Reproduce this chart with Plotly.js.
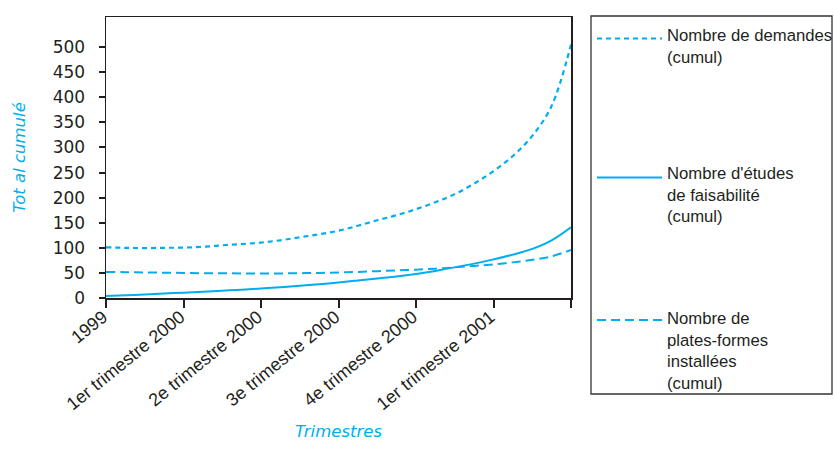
<!DOCTYPE html>
<html lang="fr">
<head>
<meta charset="utf-8">
<script src="https://cdn.plot.ly/plotly-3.0.1.min.js"></script>
<style>
  html, body { margin: 0; padding: 0; background: #ffffff; }
  #chart { width: 834px; height: 453px; }
</style>
</head>
<body>
<div id="chart"></div>
<script>
// Position along the time axis, in quarters since 1999 (sampled every quarter of a quarter)
const quarterPos = [0, 0.25, 0.5, 0.75, 1, 1.25, 1.5, 1.75, 2, 2.25, 2.5, 2.75, 3,
                    3.25, 3.5, 3.75, 4, 4.25, 4.5, 4.75, 5, 5.25, 5.5, 5.75, 6];

// Cumulative totals
const demandes = [101, 100, 99.5, 100, 100.5, 102, 105, 107.5, 110.5, 115, 121, 127, 134,
                  144, 155, 165, 177, 191, 207, 228, 253, 283, 323, 383, 505];
const etudes   = [4, 5.5, 7, 9, 10.5, 12.5, 14.5, 16.5, 19, 21.5, 24.5, 27.5, 31,
                  35, 39, 43, 48, 54, 61, 68.5, 77, 86.5, 98, 115, 141];
const plates   = [52, 51.5, 51, 50.5, 50, 49.5, 49.5, 49, 49, 49, 49.5, 50, 51,
                  52, 53.5, 55, 56.5, 58.5, 61, 64, 67, 71, 76, 83, 96];

// Axis ticks
const tickPos = [0, 1, 2, 3, 4, 5, 6];
const tickLabels = ['1999', '1er trimestre 2000', '2e trimestre 2000', '3e trimestre 2000',
                    '4e trimestre 2000', '1er trimestre 2001', ''];
const yTicks = [0, 50, 100, 150, 200, 250, 300, 350, 400, 450, 500];

// Series names as shown in the key
const seriesNames = [
  'Nombre de demandes<br>(cumul)',
  "Nombre d'études<br>de faisabilité<br>(cumul)",
  'Nombre de<br>plates-formes<br>installées<br>(cumul)'
];

const CYAN = '#00aeef';
const INK = '#231f20';
const AXIS_FONT = 'DejaVu Sans, Verdana, sans-serif';
const TEXT_FONT = 'Liberation Sans, Arial, Helvetica, sans-serif';

// Plot-area geometry (pixels) and helpers to convert to paper coordinates
const M = { l: 106, r: 263, t: 17, b: 155 };
const W = 834, H = 453;
const PW = W - M.l - M.r, PH = H - M.t - M.b;
const px = x => (x - M.l) / PW;
const py = y => (M.t + PH - y) / PH;

const dotted = '5px,4px';
const dashed = '9px,5px';

const traces = [
  { x: quarterPos, y: demandes, name: 'Nombre de demandes (cumul)', mode: 'lines',
    line: { color: CYAN, width: 2.2, dash: dotted, shape: 'spline', smoothing: 1 } },
  { x: quarterPos, y: etudes, name: "Nombre d'études de faisabilité (cumul)", mode: 'lines',
    line: { color: CYAN, width: 2, shape: 'spline', smoothing: 1 } },
  { x: quarterPos, y: plates, name: 'Nombre de plates-formes installées (cumul)', mode: 'lines',
    line: { color: CYAN, width: 2, dash: dashed, shape: 'spline', smoothing: 1 } }
];

// Key: framed box with a line sample and a text block per series
const keyRows = [
  { sampleY: 38.5, textY: 46, dash: dotted },
  { sampleY: 177.5, textY: 195, dash: 'solid' },
  { sampleY: 320, textY: 351, dash: dashed }
];

const shapes = [
  { type: 'rect', xref: 'paper', yref: 'paper', layer: 'above',
    x0: px(591), x1: px(832), y0: py(394), y1: py(16),
    line: { color: '#333333', width: 1.3 }, fillcolor: 'rgba(0,0,0,0)' }
];
const annotations = [];
keyRows.forEach((row, i) => {
  shapes.push({ type: 'line', xref: 'paper', yref: 'paper',
    x0: px(597), x1: px(662), y0: py(row.sampleY), y1: py(row.sampleY),
    line: { color: CYAN, width: 2, dash: row.dash } });
  annotations.push({ xref: 'paper', yref: 'paper', x: px(665), y: py(row.textY),
    xanchor: 'left', yanchor: 'middle', align: 'left', showarrow: false,
    text: seriesNames[i], font: { family: TEXT_FONT, size: 16.7, color: INK } });
});

const layout = {
  width: W, height: H,
  margin: M,
  paper_bgcolor: '#ffffff', plot_bgcolor: '#ffffff',
  showlegend: false,
  xaxis: {
    range: [0, 6], tickmode: 'array', tickvals: tickPos, ticktext: tickLabels,
    tickangle: -39, showgrid: false, zeroline: false,
    showline: true, linecolor: INK, linewidth: 1.5, mirror: true,
    ticks: 'outside', ticklen: 8, tickwidth: 2, tickcolor: INK,
    ticklabelstandoff: -8, ticklabelshift: -3,
    tickfont: { family: TEXT_FONT, size: 18, color: INK },
    title: { text: '<i>Trimestres</i>', font: { family: AXIS_FONT, size: 16.5, color: CYAN }, standoff: 12 },
    automargin: false, fixedrange: true
  },
  yaxis: {
    range: [0, 560], tickmode: 'array', tickvals: yTicks,
    showgrid: false, zeroline: false,
    showline: true, linecolor: INK, linewidth: 1.5, mirror: true,
    ticks: 'outside', ticklen: 6, tickwidth: 2, tickcolor: INK,
    ticklabelstandoff: 10,
    tickfont: { family: AXIS_FONT, size: 17, color: INK },
    title: { text: '<i>Tot al cumulé</i>', font: { family: AXIS_FONT, size: 16.5, color: CYAN }, standoff: 23 },
    automargin: false, fixedrange: true
  },
  // Inner halves of the tick marks, so each tick crosses its axis line
  xaxis2: {
    overlaying: 'x', matches: 'x', anchor: 'y', side: 'bottom',
    tickmode: 'array', tickvals: tickPos, showticklabels: false,
    ticks: 'inside', ticklen: 4, tickwidth: 2, tickcolor: INK,
    showline: false, showgrid: false, zeroline: false, fixedrange: true
  },
  yaxis2: {
    overlaying: 'y', matches: 'y', anchor: 'x', side: 'left',
    tickmode: 'array', tickvals: yTicks, showticklabels: false,
    ticks: 'inside', ticklen: 5, tickwidth: 2, tickcolor: INK,
    showline: false, showgrid: false, zeroline: false, fixedrange: true
  },
  shapes: shapes,
  annotations: annotations
};

Plotly.newPlot('chart', traces, layout, { displayModeBar: false, staticPlot: true });
</script>
</body>
</html>
